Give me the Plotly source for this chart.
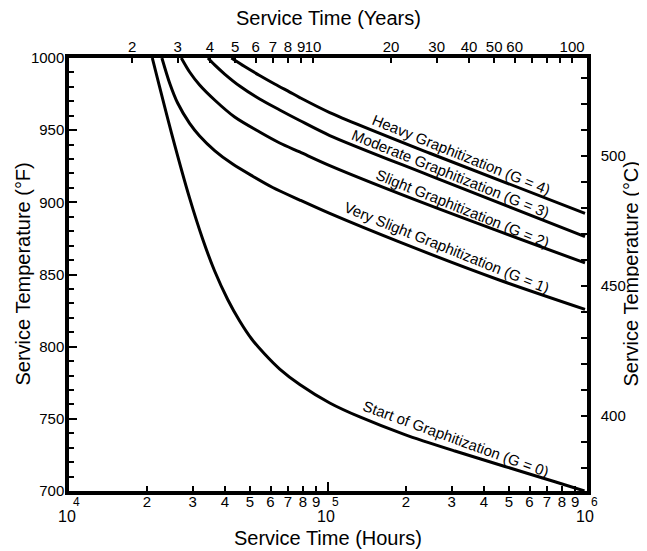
import math
import plotly.graph_objects as go

# ---------------- data ----------------
hours_g0 = [20970, 24890, 29220, 32810, 36500, 40990, 45600, 50740, 56940, 65100, 77790, 101570,
            132700, 198000, 309000, 482100, 752100, 977900]
temp_g0 = [1000, 947.8, 902.9, 874.6, 852.4, 832.7, 817.8, 805.3, 794.9, 784.5, 773.8, 761.0,
           751.3, 739.1, 727.7, 717.0, 706.4, 700]

hours_g1 = [22840, 24460, 26270, 29220, 31940, 36500, 42840, 51200, 61160, 77790, 101570, 189400, 461100, 982400]
temp_g1 = [1000, 982.7, 968.8, 954.7, 946.0, 935.9, 926.5, 918.1, 910.3, 901.6, 892.3, 872.4, 846.0, 825.8]

hours_g2 = [27140, 29220, 31940, 36500, 43620, 54470, 65100, 77790, 101570, 247300, 982400]
temp_g2 = [1000, 990.3, 981.3, 970.9, 959.1, 948.7, 941.1, 934.9, 925.5, 897.9, 858.0]

hours_g3 = [34390, 36500, 39900, 45600, 54470, 65100, 77790, 101570, 247300, 982400]
temp_g3 = [1000, 995.2, 988.9, 980.6, 971.6, 964.0, 956.7, 946.3, 918.5, 876.2]

hours_g4 = [42360, 47680, 54470, 62260, 71160, 77790, 101570, 247300, 982400]
temp_g4 = [1000, 994.1, 987.9, 982.0, 976.4, 972.6, 962.2, 934.0, 892.4]

curve_labels = ["Start of Graphitization (G = 0)",
                "Very Slight Graphitization (G = 1)",
                "Slight Graphitization (G = 2)",
                "Moderate Graphitization (G = 3)",
                "Heavy Graphitization (G = 4)"]
label_hours = [311200, 288400, 332700, 297600, 327300]
label_temps = [736.7, 868.8, 895.9, 920.1, 932.8]
label_angles = [20, 22, 22, 22, 22]

hour_ticks = [2e4, 3e4, 4e4, 5e4, 6e4, 7e4, 8e4, 9e4, 2e5, 3e5, 4e5, 5e5, 6e5, 7e5, 8e5, 9e5]
hour_ticktext = ["2", "3", "4", "5", "6", "7", "8", "9", "2", "3", "4", "5", "6", "7", "8", "9"]
decades = [1e4, 1e5, 1e6]
decade_exp = ["4", "5", "6"]

years = [2, 3, 4, 5, 6, 7, 8, 9, 10, 20, 30, 40, 50, 60, 70, 80, 90, 100]
year_text = ["2", "3", "4", "5", "6", "7", "8", "9", "10", "20", "30", "40", "50", "60", "", "", "", "100"]
HOURS_PER_YEAR = 8760

temp_f_range = [700, 1000]

FONT = "Liberation Sans, Arial, sans-serif"
BLACK = "#000000"

fig = go.Figure()
for h, t in [(hours_g0, temp_g0), (hours_g1, temp_g1), (hours_g2, temp_g2),
             (hours_g3, temp_g3), (hours_g4, temp_g4)]:
    fig.add_trace(go.Scatter(x=h, y=t, mode="lines",
                             line=dict(color=BLACK, width=3, shape="spline", smoothing=0.8),
                             showlegend=False, hoverinfo="skip"))

# invisible helper traces to anchor the top, right and decade-tick axes
fig.add_trace(go.Scatter(x=hours_g4, y=temp_g4, xaxis="x2", yaxis="y", mode="lines",
                         line=dict(width=0), opacity=0, showlegend=False, hoverinfo="skip"))
fig.add_trace(go.Scatter(x=hours_g4, y=[(t - 32) / 1.8 for t in temp_g4], xaxis="x", yaxis="y2",
                         mode="lines", line=dict(width=0), opacity=0, showlegend=False, hoverinfo="skip"))
fig.add_trace(go.Scatter(x=decades, y=[temp_f_range[0]] * 3, xaxis="x3", yaxis="y", mode="lines",
                         line=dict(width=0), opacity=0, showlegend=False, hoverinfo="skip"))

tickfont = dict(family=FONT, size=15, color=BLACK)
common_x = dict(type="log", range=[4, 6], showgrid=False, zeroline=False)

fig.update_layout(
    width=639, height=543,
    margin=dict(l=61, r=60, t=50, b=60),
    paper_bgcolor="white", plot_bgcolor="white",
    font=dict(family=FONT, color=BLACK),
    xaxis=dict(**common_x, tickmode="array", tickvals=hour_ticks, ticktext=hour_ticktext,
               ticks="inside", ticklen=5, tickwidth=1.5, tickcolor=BLACK, tickangle=0,
               ticklabelstandoff=-6,
               showline=True, linecolor=BLACK, linewidth=3.5, tickfont=tickfont),
    xaxis2=dict(**common_x, overlaying="x", side="top", anchor="y", tickmode="array",
                tickvals=[y * HOURS_PER_YEAR for y in years], ticktext=year_text,
                ticks="inside", ticklen=5, tickwidth=1.5, tickcolor=BLACK, tickangle=0,
                ticklabelstandoff=-4,
                showline=True, linecolor=BLACK, linewidth=3.5, tickfont=tickfont),
    xaxis3=dict(**common_x, overlaying="x", side="bottom", anchor="y", tickmode="array",
                tickvals=decades, ticktext=["", "", ""], ticks="inside", ticklen=9,
                tickwidth=1.5, tickcolor=BLACK, showline=False),
    yaxis=dict(range=temp_f_range, dtick=50, tick0=0, showgrid=False, zeroline=False,
               ticks="inside", ticklen=8, tickwidth=1.5, tickcolor=BLACK, ticklabelstandoff=-2,
               minor=dict(dtick=10, ticks="inside", ticklen=5, tickwidth=1.5, tickcolor=BLACK),
               showline=True, linecolor=BLACK, linewidth=3.5, tickfont=tickfont),
    yaxis2=dict(range=[(temp_f_range[0] - 32) / 1.8, (temp_f_range[1] - 32) / 1.8],
                overlaying="y", side="right", anchor="x", dtick=50, tick0=0,
                showgrid=False, zeroline=False, ticklabelstandoff=7,
                ticks="inside", ticklen=6, tickwidth=1.5, tickcolor=BLACK,
                minor=dict(dtick=10, ticks="inside", ticklen=6, tickwidth=1.5, tickcolor=BLACK),
                showline=True, linecolor=BLACK, linewidth=3.5, tickfont=tickfont),
)

annotations = []
for txt, h, t, ang in zip(curve_labels, label_hours, label_temps, label_angles):
    annotations.append(dict(x=math.log10(h), y=t, xref="x", yref="y", text=txt,
                            showarrow=False, textangle=ang, xanchor="center", yanchor="middle",
                            font=dict(family=FONT, size=15, color=BLACK)))
for d, e in zip(decades, decade_exp):
    annotations.append(dict(x=math.log10(d), y=0, xref="x", yref="paper", text=e, showarrow=False,
                            xanchor="left", yanchor="middle", xshift=2, yshift=-11,
                            font=dict(family=FONT, size=12, color=BLACK)))
    annotations.append(dict(x=math.log10(d), y=0, xref="x", yref="paper", text="10", showarrow=False,
                            xanchor="center", yanchor="middle", xshift=-2, yshift=-25,
                            font=dict(family=FONT, size=16, color=BLACK)))
# axis titles
title_font = dict(family=FONT, size=20, color=BLACK)
annotations += [
    dict(x=0.5, y=1, xref="paper", yref="paper", text="Service Time (Years)", showarrow=False,
         xanchor="center", yanchor="middle", yshift=40, font=title_font),
    dict(x=0.5, y=0, xref="paper", yref="paper", text="Service Time (Hours)", showarrow=False,
         xanchor="center", yanchor="middle", yshift=-47, font=title_font),
    dict(x=0, y=0.5, xref="paper", yref="paper", text="Service Temperature (°F)", showarrow=False,
         xanchor="center", yanchor="middle", xshift=-47, textangle=-90, font=title_font),
    dict(x=1, y=0.5, xref="paper", yref="paper", text="Service Temperature (°C)", showarrow=False,
         xanchor="center", yanchor="middle", xshift=43, textangle=-90, font=title_font),
]
fig.update_layout(annotations=annotations)

fig.write_html("out.html")
